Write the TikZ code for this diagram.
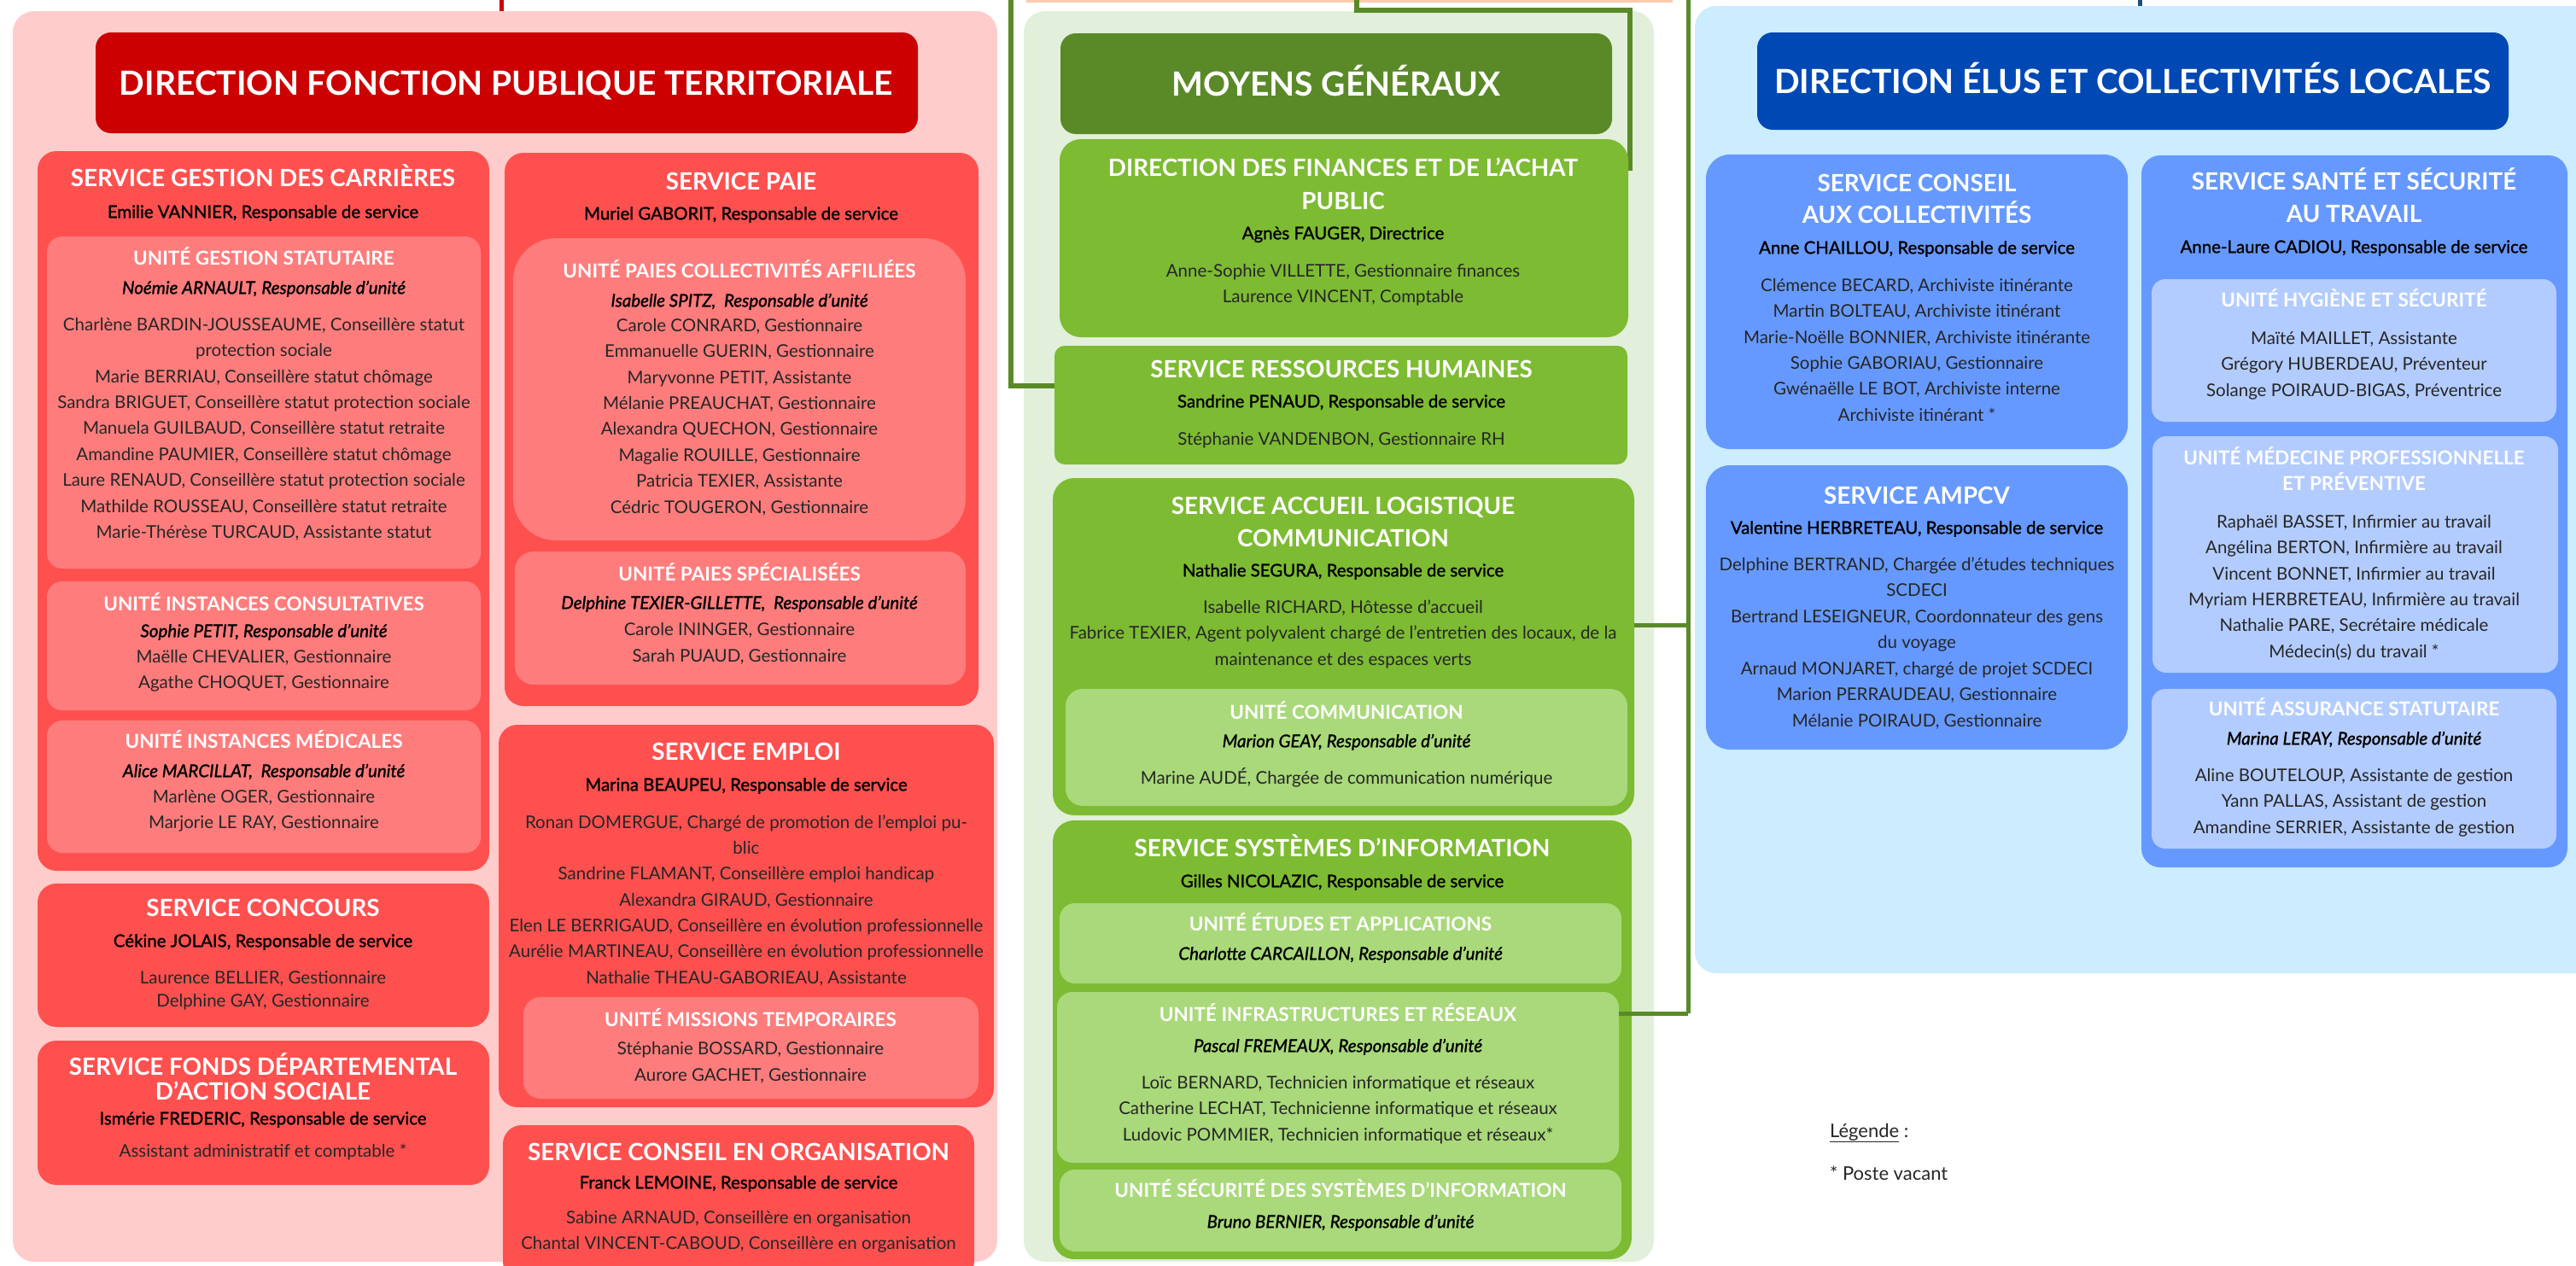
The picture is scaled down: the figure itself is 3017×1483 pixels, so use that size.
\documentclass[tikz,border=0pt]{standalone}
\usepackage{fontspec}
\setmainfont{Lato}
\newfontfamily\medfont{Lato}[FakeBold=1.3]
\usetikzlibrary{fit}
\definecolor{pinkbg}{HTML}{FFCCCC}
\definecolor{redtitle}{HTML}{CC0000}
\definecolor{redsvc}{HTML}{FF5050}
\definecolor{redunit}{HTML}{FF7C7C}
\definecolor{greenbg}{HTML}{E2EFDA}
\definecolor{greentitle}{HTML}{5A8A28}
\definecolor{greensvc}{HTML}{7DBB33}
\definecolor{greenunit}{HTML}{A9D97A}
\definecolor{bluebg}{HTML}{CCECFF}
\definecolor{bluetitle}{HTML}{0049B5}
\definecolor{bluesvc}{HTML}{6699FF}
\definecolor{blueunit}{HTML}{B3CCFF}
\definecolor{orangebar}{HTML}{F8CBAD}
\definecolor{bodyc}{HTML}{262626}
\definecolor{blueline}{HTML}{1F4E79}
\newcommand\lines[6][body]{%
  \foreach \t [count=\i] in {#6} {\node[#1] (#2-\i) at (#3,{#4+(\i-1)*#5}) {\t};}}
\begin{document}
\begin{tikzpicture}[x=1pt,y=-1pt,
  box/.style={inner sep=0pt,outer sep=0pt,rounded corners=#1}, box/.default=22pt,
  tx/.style={inner sep=0pt,outer sep=0pt,anchor=base,align=center},
  bigttl/.style={tx,text=white,font=\bfseries\fontsize{39}{44}\selectfont,yshift=-14pt},
  ttl/.style={tx,text=white,font=\bfseries\fontsize{27.8}{32}\selectfont,yshift=-10pt},
  uttl/.style={tx,text=white,font=\bfseries\fontsize{22.5}{26}\selectfont,yshift=-8.1pt},
  resp/.style={tx,text=black,font=\medfont\fontsize{20.4}{24}\selectfont,yshift=-7.3pt},
  respi/.style={tx,text=black,font=\medfont\itshape\fontsize{20.5}{24}\selectfont,yshift=-7.3pt},
  body/.style={tx,text=bodyc,font=\fontsize{20.5}{24}\selectfont,yshift=-7.3pt},
  legtx/.style={tx,anchor=base west,text=bodyc,font=\normalfont\fontsize{22}{26}\selectfont},
  gline/.style={draw=greentitle,line width=6pt},
  gline2/.style={draw=greentitle,line width=5pt},
]
\useasboundingbox (0,0) rectangle (3017,1483);
\fill[white] (0,0) rectangle (3017,1483);

% ---------- panels ----------
\node[box=25pt,fill=pinkbg,fit={(15,13)(1168,1478)}] (ppanel) {};
\node[box=25pt,fill=greenbg,fit={(1199,13)(1937,1478)}] (gpanel) {};
\node[box=25pt,fill=bluebg,fit={(1985,7)(3060,1140)}] (bpanel) {};
\node[box=0pt,fill=orangebar,fit={(1202,-6)(1959,3)}] (obar) {};

% ---------- connectors ----------
\coordinate (rtop) at (587,0);
\draw[redtitle,line width=5pt] (rtop) -- (rtop |- ppanel.north);
\coordinate (btop) at (2506,0);
\draw[blueline,line width=5pt] (btop) -- (btop |- bpanel.north);
\coordinate (gltop) at (1184,0);
\coordinate (rhin) at (1237,452);
\draw[gline] (gltop) |- (rhin);
\coordinate (mgtop) at (1589,0);
\coordinate (dfin) at (1909,200);
\draw[gline] (mgtop) -- (1589,12) -| (dfin);
\coordinate (grtop) at (1977,0);
\coordinate (grbot) at (1977,1187);
\draw[gline2] (grtop) -- (grbot);

% ---------- RED : Direction Fonction Publique Territoriale ----------
\node[box=18pt,fill=redtitle,fit={(112,38)(1075,156)}] (dfpt) {};
\node[bigttl] (dfpt-t) at (593,97) {DIRECTION FONCTION PUBLIQUE TERRITORIALE};

\node[box,fill=redsvc,fit={(44,177)(573,1020)}] (sgc) {};
\node[ttl] (sgc-t) at (308,208) {SERVICE GESTION DES CARRIÈRES};
\node[resp] (sgc-r) at (308,248) {Emilie VANNIER, Responsable de service};

\node[box=18pt,fill=redunit,fit={(55,277)(563,666)}] (ugs) {};
\node[uttl] (ugs-t) at (309,302) {UNITÉ GESTION STATUTAIRE};
\node[respi] (ugs-r) at (309,337) {Noémie ARNAULT, Responsable d’unité};
\lines{ugs-l}{309}{380}{30.4}{{Charlène BARDIN-JOUSSEAUME, Conseillère statut},{protection sociale},{Marie BERRIAU, Conseillère statut chômage},{Sandra BRIGUET, Conseillère statut protection sociale},{Manuela GUILBAUD, Conseillère statut retraite},{Amandine PAUMIER, Conseillère statut chômage},{Laure RENAUD, Conseillère statut protection sociale},{Mathilde ROUSSEAU, Conseillère statut retraite},{Marie-Thérèse TURCAUD, Assistante statut}}

\node[box=18pt,fill=redunit,fit={(55,681)(563,832)}] (uic) {};
\node[uttl] (uic-t) at (309,707) {UNITÉ INSTANCES CONSULTATIVES};
\node[respi] (uic-r) at (309,739) {Sophie PETIT, Responsable d’unité};
\lines{uic-l}{309}{769}{30}{{Maëlle CHEVALIER, Gestionnaire},{Agathe CHOQUET, Gestionnaire}}

\node[box=18pt,fill=redunit,fit={(55,844)(563,999)}] (uim) {};
\node[uttl] (uim-t) at (309,868) {UNITÉ INSTANCES MÉDICALES};
\node[respi] (uim-r) at (309,903) {Alice MARCILLAT,\ \ Responsable d’unité};
\lines{uim-l}{309}{933}{30}{{Marlène OGER, Gestionnaire},{Marjorie LE RAY, Gestionnaire}}

\node[box,fill=redsvc,fit={(44,1035)(573,1203)}] (sco) {};
\node[ttl] (sco-t) at (308,1063) {SERVICE CONCOURS};
\node[resp] (sco-r) at (308,1102) {Cékine JOLAIS, Responsable de service};
\lines{sco-l}{308}{1145}{27}{{Laurence BELLIER, Gestionnaire},{Delphine GAY, Gestionnaire}}

\node[box,fill=redsvc,fit={(44,1219)(573,1388)}] (sfd) {};
\lines[ttl]{sfd-t}{308}{1249}{29}{{SERVICE FONDS DÉPARTEMENTAL},{D’ACTION SOCIALE}}
\node[resp] (sfd-r) at (308,1310) {Ismérie FREDERIC, Responsable de service};
\node[body] (sfd-l) at (308,1348) {Assistant administratif et comptable *};

\node[box,fill=redsvc,fit={(591,179)(1146,827)}] (spa) {};
\node[ttl] (spa-t) at (868,212) {SERVICE PAIE};
\node[resp] (spa-r) at (868,250) {Muriel GABORIT, Responsable de service};

\node[box=50pt,fill=redunit,fit={(601,279)(1131,633)}] (upc) {};
\node[uttl] (upc-t) at (866,317) {UNITÉ PAIES COLLECTIVITÉS AFFILIÉES};
\node[respi] (upc-r) at (866,352) {Isabelle SPITZ,\ \ Responsable d’unité};
\lines{upc-l}{866}{381}{30.4}{{Carole CONRARD, Gestionnaire},{Emmanuelle GUERIN, Gestionnaire},{Maryvonne PETIT, Assistante},{Mélanie PREAUCHAT, Gestionnaire},{Alexandra QUECHON, Gestionnaire},{Magalie ROUILLE, Gestionnaire},{Patricia TEXIER, Assistante},{Cédric TOUGERON, Gestionnaire}}

\node[box=22pt,fill=redunit,fit={(603,646)(1131,802)}] (ups) {};
\node[uttl] (ups-t) at (866,672) {UNITÉ PAIES SPÉCIALISÉES};
\node[respi] (ups-r) at (866,706) {Delphine TEXIER-GILLETTE,\ \ Responsable d’unité};
\lines{ups-l}{866}{737}{31}{{Carole ININGER, Gestionnaire},{Sarah PUAUD, Gestionnaire}}

\node[box,fill=redsvc,fit={(584,849)(1164,1297)}] (sem) {};
\node[ttl] (sem-t) at (874,880) {SERVICE EMPLOI};
\node[resp] (sem-r) at (874,919) {Marina BEAUPEU, Responsable de service};
\lines{sem-l}{874}{963}{30.3}{{Ronan DOMERGUE, Chargé de promotion de l’emploi pu-},{blic},{Sandrine FLAMANT, Conseillère emploi handicap},{Alexandra GIRAUD, Gestionnaire},{Elen LE BERRIGAUD, Conseillère en évolution professionnelle},{Aurélie MARTINEAU, Conseillère en évolution professionnelle},{Nathalie THEAU-GABORIEAU, Assistante}}

\node[box=20pt,fill=redunit,fit={(613,1168)(1146,1287)}] (umt) {};
\node[uttl] (umt-t) at (879,1194) {UNITÉ MISSIONS TEMPORAIRES};
\lines{umt-l}{879}{1228}{31}{{Stéphanie BOSSARD, Gestionnaire},{Aurore GACHET, Gestionnaire}}

\node[box,fill=redsvc,fit={(589,1318)(1141,1500)}] (sor) {};
\node[ttl] (sor-t) at (865,1349) {SERVICE CONSEIL EN ORGANISATION};
\node[resp] (sor-r) at (865,1385) {Franck LEMOINE, Responsable de service};
\lines{sor-l}{865}{1426}{30}{{Sabine ARNAUD, Conseillère en organisation},{Chantal VINCENT-CABOUD, Conseillère en organisation}}

% ---------- GREEN : Moyens généraux ----------
\node[box=18pt,fill=greentitle,fit={(1242,39)(1888,157)}] (mg) {};
\node[bigttl] (mg-t) at (1565,98) {MOYENS GÉNÉRAUX};

\node[box=25pt,fill=greensvc,fit={(1241,163)(1907,395)}] (dfa) {};
\lines[ttl]{dfa-t}{1573}{196}{39}{{DIRECTION DES FINANCES ET DE L’ACHAT},{PUBLIC}}
\node[resp] (dfa-r) at (1573,273) {Agnès FAUGER, Directrice};
\lines{dfa-l}{1573}{317}{30}{{Anne-Sophie VILLETTE, Gestionnaire finances},{Laurence VINCENT, Comptable}}

\node[box=12pt,fill=greensvc,fit={(1235,405)(1906,544)}] (srh) {};
\node[ttl] (srh-t) at (1571,432) {SERVICE RESSOURCES HUMAINES};
\node[resp] (srh-r) at (1571,470) {Sandrine PENAUD, Responsable de service};
\node[body] (srh-l) at (1571,514) {Stéphanie VANDENBON, Gestionnaire RH};

\node[box=25pt,fill=greensvc,fit={(1233,560)(1914,955)}] (sal) {};
\lines[ttl]{sal-t}{1573}{592}{38}{{SERVICE ACCUEIL LOGISTIQUE},{COMMUNICATION}}
\node[resp] (sal-r) at (1573,668) {Nathalie SEGURA, Responsable de service};
\lines{sal-l}{1573}{711}{30.5}{{Isabelle RICHARD, Hôtesse d’accueil},{Fabrice TEXIER, Agent polyvalent chargé de l’entretien des locaux, de la},{maintenance et des espaces verts}}

\node[box=20pt,fill=greenunit,fit={(1248,807)(1906,944)}] (uco) {};
\node[uttl] (uco-t) at (1577,834) {UNITÉ COMMUNICATION};
\node[respi] (uco-r) at (1577,868) {Marion GEAY, Responsable d’unité};
\node[body] (uco-l) at (1577,911) {Marine AUDÉ, Chargée de communication numérique};

\node[box=25pt,fill=greensvc,fit={(1233,961)(1911,1475)}] (ssi) {};
\node[ttl] (ssi-t) at (1572,993) {SERVICE SYSTÈMES D’INFORMATION};
\node[resp] (ssi-r) at (1572,1032) {Gilles NICOLAZIC, Responsable de service};

\node[box=18pt,fill=greenunit,fit={(1241,1058)(1899,1152)}] (uea) {};
\node[uttl] (uea-t) at (1570,1082) {UNITÉ ÉTUDES ET APPLICATIONS};
\node[respi] (uea-r) at (1570,1117) {Charlotte CARCAILLON, Responsable d’unité};

\node[box=18pt,fill=greenunit,fit={(1238,1162)(1896,1362)}] (uir) {};
\node[uttl] (uir-t) at (1567,1188) {UNITÉ INFRASTRUCTURES ET RÉSEAUX};
\node[respi] (uir-r) at (1567,1225) {Pascal FREMEAUX, Responsable d’unité};
\lines{uir-l}{1567}{1268}{30.5}{{Loïc BERNARD, Technicien informatique et réseaux},{Catherine LECHAT, Technicienne informatique et réseaux},{Ludovic POMMIER, Technicien informatique et réseaux*}}

\node[box=18pt,fill=greenunit,fit={(1241,1370)(1899,1466)}] (uss) {};
\node[uttl] (uss-t) at (1570,1394) {UNITÉ SÉCURITÉ DES SYSTÈMES D’INFORMATION};
\node[respi] (uss-r) at (1570,1431) {Bruno BERNIER, Responsable d’unité};

% green stubs to the right line
\coordinate (salout) at (1977,732);
\coordinate (uirout) at (1977,1187);
\draw[gline2] (sal.east |- salout) -- (salout);
\draw[gline2] (uir.east |- uirout) -- (uirout);

% ---------- BLUE : Direction élus et collectivités locales ----------
\node[box=18pt,fill=bluetitle,fit={(2058,38)(2938,152)}] (decl) {};
\node[bigttl] (decl-t) at (2498,95) {DIRECTION ÉLUS ET COLLECTIVITÉS LOCALES};

\node[box=28pt,fill=bluesvc,fit={(1998,181)(2492,526)}] (scc) {};
\lines[ttl]{scc-t}{2245}{214}{37}{{SERVICE CONSEIL},{AUX COLLECTIVITÉS}}
\node[resp] (scc-r) at (2245,290) {Anne CHAILLOU, Responsable de service};
\lines{scc-l}{2245}{334}{30.4}{{Clémence BECARD, Archiviste itinérante},{Martin BOLTEAU, Archiviste itinérant},{Marie-Noëlle BONNIER, Archiviste itinérante},{Sophie GABORIAU, Gestionnaire},{Gwénaëlle LE BOT, Archiviste interne},{Archiviste itinérant *}}

\node[box=28pt,fill=bluesvc,fit={(1998,545)(2492,878)}] (samp) {};
\node[ttl] (samp-t) at (2245,580) {SERVICE AMPCV};
\node[resp] (samp-r) at (2245,618) {Valentine HERBRETEAU, Responsable de service};
\lines{samp-l}{2245}{661}{30.5}{{Delphine BERTRAND, Chargée d’études techniques},{SCDECI},{Bertrand LESEIGNEUR, Coordonnateur des gens},{du voyage},{Arnaud MONJARET, chargé de projet SCDECI},{Marion PERRAUDEAU, Gestionnaire},{Mélanie POIRAUD, Gestionnaire}}

\node[box=22pt,fill=bluesvc,fit={(2508,182)(3007,1016)}] (sst) {};
\lines[ttl]{sst-t}{2757}{212}{38}{{SERVICE SANTÉ ET SÉCURITÉ},{AU TRAVAIL}}
\node[resp] (sst-r) at (2757,289) {Anne-Laure CADIOU, Responsable de service};

\node[box=16pt,fill=blueunit,fit={(2520,327)(2994,494)}] (uhs) {};
\node[uttl] (uhs-t) at (2757,351) {UNITÉ HYGIÈNE ET SÉCURITÉ};
\lines{uhs-l}{2757}{396}{30.5}{{Maïté MAILLET, Assistante},{Grégory HUBERDEAU, Préventeur},{Solange POIRAUD-BIGAS, Préventrice}}

\node[box=16pt,fill=blueunit,fit={(2521,511)(2996,788)}] (ump) {};
\lines[uttl]{ump-t}{2757}{536}{30}{{UNITÉ MÉDECINE PROFESSIONNELLE},{ET PRÉVENTIVE}}
\lines{ump-l}{2757}{611}{30.4}{{Raphaël BASSET, Infirmier au travail},{Angélina BERTON, Infirmière au travail},{Vincent BONNET, Infirmier au travail},{Myriam HERBRETEAU, Infirmière au travail},{Nathalie PARE, Secrétaire médicale},{Médecin(s) du travail *}}

\node[box=16pt,fill=blueunit,fit={(2520,807)(2994,994)}] (uas) {};
\node[uttl] (uas-t) at (2757,830) {UNITÉ ASSURANCE STATUTAIRE};
\node[respi] (uas-r) at (2757,865) {Marina LERAY, Responsable d’unité};
\lines{uas-l}{2757}{908}{30.5}{{Aline BOUTELOUP, Assistante de gestion},{Yann PALLAS, Assistant de gestion},{Amandine SERRIER, Assistante de gestion}}

% ---------- legend ----------
\node[legtx] (leg) at (2143,1332) {\underline{Légende}\ :};
\node[legtx] (leg2) at (2143,1382) {*\ Poste\ vacant};
\end{tikzpicture}
\end{document}
